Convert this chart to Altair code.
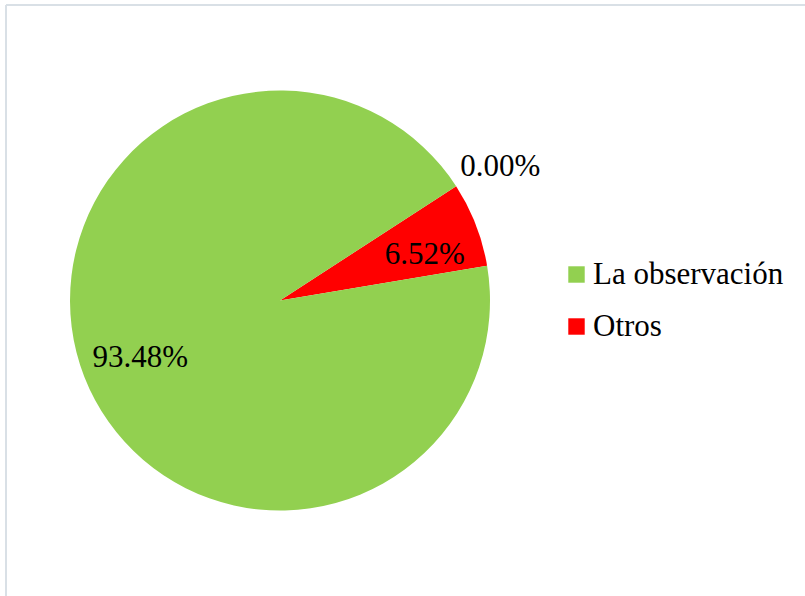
import altair as alt
import pandas as pd

categories = ["Ninguno", "Otros", "La observación"]
values = [0.00, 6.52, 93.48]
labels = ["0.00%", "6.52%", "93.48%"]
order = [0, 1, 2]

legend_domain = ["La observación", "Otros"]
legend_colors = ["#92d050", "#ff0000"]

df = pd.DataFrame({"categoria": categories, "valor": values, "etiqueta": labels, "orden": order})

START = 0.995  # radians, where the first slice begins (clockwise from 12 o'clock)
TWO_PI = 6.283185307

W, H = 799, 591
CX, CY = 274, 295.5
FONT = "Liberation Serif"
BORDER = "#d9dfe6"

theta = alt.Theta("valor:Q", stack=True, scale=alt.Scale(range=[START, START + TWO_PI]))

arcs = alt.Chart(df).transform_filter(alt.datum.valor > 0).mark_arc(radius=210, stroke=None).encode(
    theta=theta,
    order=alt.Order("orden:Q"),
    x=alt.value(CX),
    y=alt.value(CY),
    color=alt.Color(
        "categoria:N",
        scale=alt.Scale(domain=legend_domain, range=legend_colors),
        legend=alt.Legend(
            title=None,
            orient="none",
            legendX=555,
            legendY=254,
            symbolType="square",
            symbolSize=270,
            symbolStrokeWidth=0,
            labelFont=FONT,
            labelFontSize=31,
            labelColor="#000000",
            labelLimit=0,
            labelOffset=1,
            rowPadding=20,
        ),
    ),
)


def label_layer(cat, radius, dx=0, dy=0):
    # keep every row so the stacked angles stay the same; show only one label
    return alt.Chart(df).mark_text(
        radius=radius, font=FONT, fontSize=31, color="#000000",
        align="center", baseline="middle", dx=dx, dy=dy,
    ).encode(
        theta=theta,
        order=alt.Order("orden:Q"),
        x=alt.value(CX),
        y=alt.value(CY),
        text=alt.condition(alt.datum.categoria == cat, "etiqueta:N", alt.value("")),
    )


big_label = label_layer("La observación", 152, dx=2, dy=2)
small_label = label_layer("Otros", 152, dx=3, dy=10)
zero_label = label_layer("Ninguno", 258, dx=4, dy=7)

top_border = alt.Chart(df).mark_rule(color=BORDER, strokeWidth=1.5).encode(
    x=alt.value(0), x2=alt.value(W), y=alt.value(0)
)
left_border = alt.Chart(df).mark_rule(color=BORDER, strokeWidth=1.5).encode(
    x=alt.value(0), y=alt.value(0), y2=alt.value(H)
)

chart = alt.layer(top_border, left_border, arcs, big_label, small_label, zero_label).properties(
    width=W,
    height=H,
    padding={"left": 6, "top": 5, "right": 0, "bottom": 0},
    autosize=alt.AutoSizeParams(type="none"),
    background="#ffffff",
).configure_view(stroke=None)

chart.save("out.html", embed_options={"renderer": "svg", "actions": False})
